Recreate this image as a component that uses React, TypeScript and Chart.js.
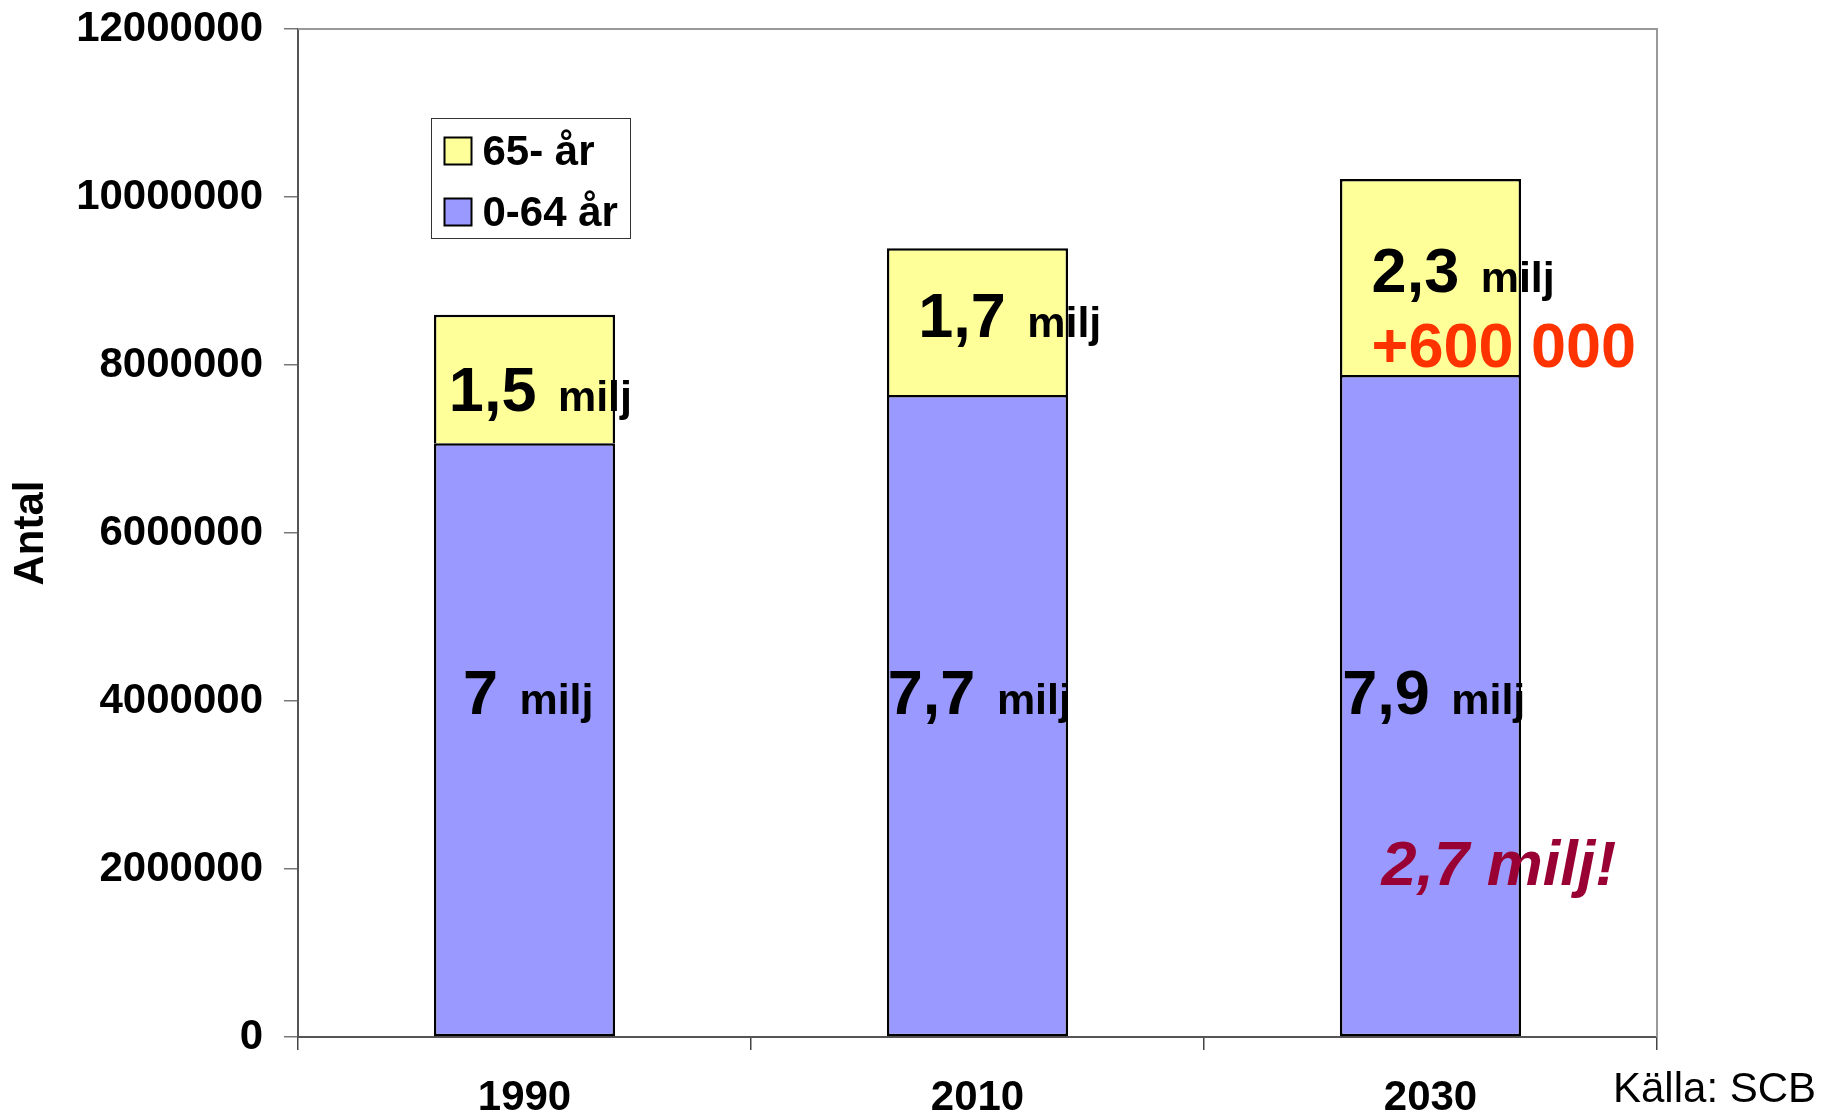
import React, { useEffect, useRef } from 'react';
import { Chart, registerables } from 'chart.js';

Chart.register(...registerables);

// ---- Data ----
const categories = ['1990', '2010', '2030'];
const seriesLabels = ['0-64 år', '65- år'];
const age0to64 = [7067000, 7643000, 7881000];
const age65plus = [1532000, 1746000, 2333000];
const yMax = 12000000;
const yStep = 2000000;
const axisTitle = 'Antal';
const sourceText = 'Källa: SCB';
const unitText = 'milj';
const labels65 = ['1,5', '1,7', '2,3'];
const labels064 = ['7', '7,7', '7,9'];
const increaseText = '+600 000';
const totalOldText = '2,7 milj!';

// ---- Styling ----
const FONT = '"Liberation Sans", Arial, Helvetica, sans-serif';
const colors064 = '#9999FF';
const colors65 = '#FFFF99';
const BIG = 63;
const SMALL = 43;

// annotation placement in data space (category index + fraction, value)
const annotationSpecs = [
  { big: labels65[0], small: unitText, cat: 0, dx: -0.167, value: 7448000, color: '#000', italic: false },
  { big: labels65[1], small: unitText, cat: 1, dx: -0.131, value: 8337000, color: '#000', italic: false },
  { big: labels65[2], small: unitText, cat: 2, dx: -0.130, value: 8873000, color: '#000', italic: false },
  { big: increaseText, small: '', cat: 2, dx: -0.130, value: 7980000, color: '#FF3300', italic: false },
  { big: labels064[0], small: unitText, cat: 0, dx: -0.136, value: 3840000, color: '#000', italic: false },
  { big: labels064[1], small: unitText, cat: 1, dx: -0.198, value: 3840000, color: '#000', italic: false },
  { big: labels064[2], small: unitText, cat: 2, dx: -0.195, value: 3840000, color: '#000', italic: false },
  { big: totalOldText, small: '', cat: 2, dx: -0.108, value: 1810000, color: '#990033', italic: true },
];

const annotationPlugin = {
  id: 'annots',
  afterDatasetsDraw(chart: any) {
    const { ctx, scales } = chart;
    const x = scales.x;
    const y = scales.y;
    ctx.save();
    ctx.textAlign = 'left';
    ctx.textBaseline = 'alphabetic';
    for (const a of annotationSpecs) {
      const px = x.getPixelForValue(a.cat + a.dx);
      const py = y.getPixelForValue(a.value);
      ctx.fillStyle = a.color;
      ctx.font = `${a.italic ? 'italic ' : ''}bold ${BIG}px ${FONT}`;
      const t = a.big + (a.small ? ' ' : '');
      ctx.fillText(t, px, py);
      if (a.small) {
        const w = ctx.measureText(t).width;
        ctx.font = `bold ${SMALL}px ${FONT}`;
        ctx.fillText(a.small, px + w + 4, py);
      }
    }
    ctx.restore();
  },
};

const framePlugin = {
  id: 'frame',
  afterDraw(chart: any) {
    const { ctx, chartArea } = chart;
    ctx.save();
    ctx.strokeStyle = '#999999';
    ctx.lineWidth = 2;
    ctx.beginPath();
    ctx.moveTo(chartArea.left, chartArea.top);
    ctx.lineTo(chartArea.right, chartArea.top);
    ctx.lineTo(chartArea.right, chartArea.bottom);
    ctx.stroke();

    // legend (reverse order)
    const lx = chartArea.left + 133.5;
    const ly = chartArea.top + 89.5;
    ctx.fillStyle = '#fff';
    ctx.fillRect(lx, ly, 199, 120);
    ctx.strokeStyle = '#333';
    ctx.lineWidth = 1;
    ctx.strokeRect(lx, ly, 199, 120);
    const ds = chart.data.datasets.slice().reverse();
    ds.forEach((d: any, i: number) => {
      const sy = ly + 19 + i * 61;
      ctx.fillStyle = d.backgroundColor;
      ctx.fillRect(lx + 13, sy, 27, 27);
      ctx.strokeStyle = '#000';
      ctx.lineWidth = 2;
      ctx.strokeRect(lx + 13, sy, 27, 27);
      ctx.fillStyle = '#000';
      ctx.font = `bold 42px ${FONT}`;
      ctx.textAlign = 'left';
      ctx.textBaseline = 'alphabetic';
      ctx.fillText(d.label, lx + 51, sy + 27);
    });

    // source
    ctx.fillStyle = '#000';
    ctx.font = `42px ${FONT}`;
    ctx.textAlign = 'left';
    ctx.textBaseline = 'alphabetic';
    ctx.fillText(sourceText, chartArea.right - 44, chartArea.bottom + 65);
    ctx.restore();
  },
};

export default function App() {
  const ref = useRef<HTMLCanvasElement | null>(null);
  useEffect(() => {
    if (!ref.current) return;
    const chart = new Chart(ref.current, {
      type: 'bar',
      data: {
        labels: categories,
        datasets: [
          {
            label: seriesLabels[0],
            data: age0to64,
            backgroundColor: colors064,
            borderColor: '#000',
            borderWidth: 2.5,
            borderSkipped: false,
            barPercentage: 0.4,
            categoryPercentage: 1,
          },
          {
            label: seriesLabels[1],
            data: age65plus,
            backgroundColor: colors65,
            borderColor: '#000',
            borderWidth: 2.5,
            borderSkipped: 'start',
            barPercentage: 0.4,
            categoryPercentage: 1,
          },
        ],
      },
      options: {
        responsive: false,
        animation: false,
        devicePixelRatio: 1,
        events: [],
        layout: { padding: { left: 0, top: 29, right: 164, bottom: 0 } },
        plugins: { legend: { display: false }, tooltip: { enabled: false }, title: { display: false } },
        scales: {
          x: {
            stacked: true,
            offset: true,
            grid: { offset: true, drawOnChartArea: false, drawTicks: true, tickLength: 13, color: '#444', lineWidth: 1.5 },
            border: { display: true, color: '#555', width: 2 },
            ticks: { font: { family: FONT, size: 42, weight: 'bold' }, color: '#000', padding: 23, maxRotation: 0 },
            afterFit: (s: any) => { s.height = 80; s.paddingLeft = 0; s.paddingRight = 0; },
          },
          y: {
            stacked: true,
            min: 0,
            max: yMax,
            ticks: {
              stepSize: yStep,
              callback: (v: any) => String(v),
              font: { family: FONT, size: 42, weight: 'bold' },
              color: '#000',
              padding: 21,
            },
            grid: { drawOnChartArea: false, drawTicks: true, tickLength: 14, color: '#777', lineWidth: 1.5 },
            border: { display: true, color: '#555', width: 2 },
            title: {
              display: true,
              text: axisTitle,
              font: { family: FONT, size: 42, weight: 'bold' },
              color: '#000',
              padding: { top: 6, bottom: 0 },
            },
            afterFit: (s: any) => { s.width = 298; s.paddingTop = 0; s.paddingBottom = 0; },
          },
        },
      },
      plugins: [annotationPlugin, framePlugin],
    } as any);
    return () => chart.destroy();
  }, []);
  return (
    <div style={{ position: 'fixed', left: 0, top: 0, width: 1821, height: 1117, background: '#fff' }}>
      <canvas ref={ref} width={1821} height={1117} style={{ display: 'block' }} />
    </div>
  );
}
